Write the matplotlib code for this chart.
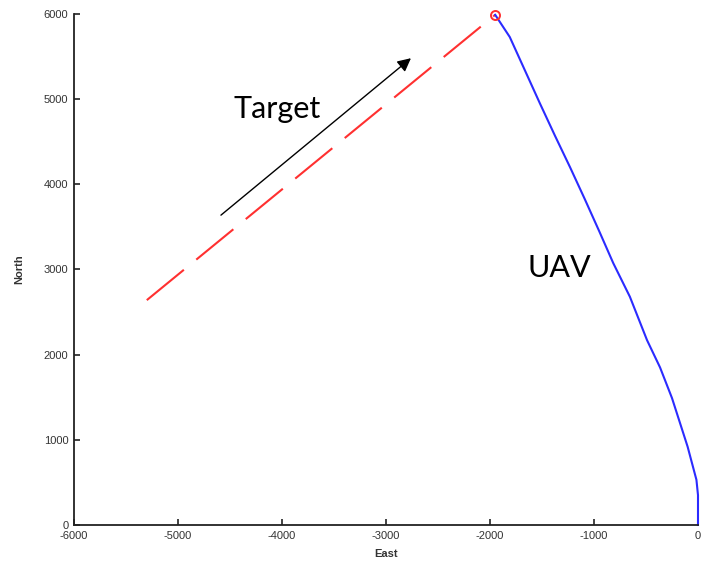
import matplotlib
matplotlib.use('Agg')
import matplotlib.pyplot as plt

plt.rcParams['axes.unicode_minus'] = False

# target path (east, north) in metres
target_east = [-5300, -1950]
target_north = [2640, 5990]

# UAV pursuit path, from the intercept point back to the origin
uav_east = [-1950, -1810, -1665, -1520, -1375, -1230, -1090, -950, -815,
            -655, -490, -365, -250, -100, -15, 0, 0]
uav_north = [5990, 5730, 5340, 4950, 4570, 4200, 3830, 3450, 3075,
             2680, 2170, 1850, 1490, 920, 530, 350, 0]

x_ticks = [-6000, -5000, -4000, -3000, -2000, -1000, 0]
y_ticks = [0, 1000, 2000, 3000, 4000, 5000, 6000]

fig = plt.figure(figsize=(7.02, 5.71), dpi=100)
ax = fig.add_axes([0.1054, 0.0806, 0.8889, 0.8949])

ax.plot(target_east, target_north, color='#ff3030', linewidth=1.5,
        linestyle=(0, (23, 7.7)), clip_on=False)
ax.plot(uav_east, uav_north, color='#2b2bff', linewidth=1.5, clip_on=False)
ax.plot(target_east[-1], target_north[-1], marker='o', markersize=6.5,
        markerfacecolor='none', markeredgecolor='#ff3030',
        markeredgewidth=1.4, clip_on=False)

# direction of travel for the target
ax.annotate('', xy=(-2760, 5481), xytext=(-4587, 3638),
            arrowprops=dict(arrowstyle='-|>', color='black', lw=1.0,
                            mutation_scale=20, shrinkA=0, shrinkB=0))
ax.text(-4471, 4777, 'Target', fontsize=22, family='Lato', va='baseline', ha='left')
ax.text(-1644, 2911, 'UAV', fontsize=22, family='Lato', va='baseline', ha='left')

ax.set_xlim(-6000, 0)
ax.set_ylim(0, 6000)
ax.set_xticks(x_ticks)
ax.set_yticks(y_ticks)
ax.spines['top'].set_visible(False)
ax.spines['right'].set_visible(False)
for s in ['left', 'bottom']:
    ax.spines[s].set_linewidth(1.3)
    ax.spines[s].set_color('#222222')
ax.tick_params(direction='in', length=4, width=1.2, color='#222222',
               labelsize=8, labelcolor='#333333', pad=4)
for lbl in ax.get_xticklabels() + ax.get_yticklabels():
    lbl.set_family('Liberation Sans')
ax.set_xlabel('East', fontsize=8, fontweight='bold', color='#333333',
              family='Liberation Sans', labelpad=6)
ax.set_ylabel('North', fontsize=8, fontweight='bold', color='#333333',
              family='Liberation Sans', labelpad=14)

plt.savefig('out.png', dpi=100)
plt.close()
